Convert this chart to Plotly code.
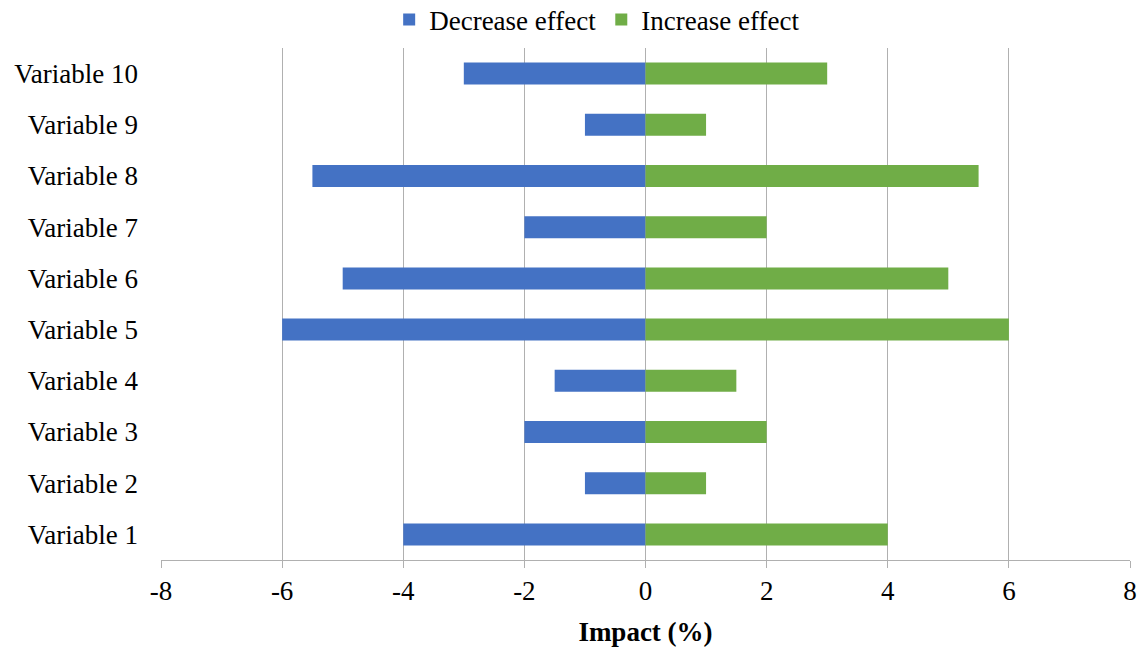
import plotly.graph_objects as go

# Tornado chart: impact of each variable when decreased / increased
variables = ["Variable 1", "Variable 2", "Variable 3", "Variable 4", "Variable 5",
             "Variable 6", "Variable 7", "Variable 8", "Variable 9", "Variable 10"]
decrease_effect = [-4, -1, -2, -1.5, -6, -5, -2, -5.5, -1, -3]
increase_effect = [4, 1, 2, 1.5, 6, 5, 2, 5.5, 1, 3]
x_ticks = [-8, -6, -4, -2, 0, 2, 4, 6, 8]

FONT = "Liberation Serif"
GRID = "#b0b0b0"
SIZE = 27

fig = go.Figure()
fig.add_trace(go.Bar(y=variables, x=decrease_effect, orientation="h",
                     name="Decrease effect", marker=dict(color="#4472C4", line_width=0),
                     width=0.43))
fig.add_trace(go.Bar(y=variables, x=increase_effect, orientation="h",
                     name="Increase effect", marker=dict(color="#70AD47", line_width=0),
                     width=0.43))

# central vertical axis with category boundary ticks
boundaries = [i - 0.5 for i in range(len(variables) + 1)]

fig.update_layout(
    width=1144, height=648,
    barmode="overlay",
    paper_bgcolor="white", plot_bgcolor="white",
    font=dict(family=FONT, size=SIZE, color="black"),
    margin=dict(l=161, r=14, t=48, b=88, autoexpand=False),
    legend=dict(orientation="h", xref="container", x=0.522, xanchor="center",
                yref="container", y=1 - 20 / 648, yanchor="middle",
                font=dict(family=FONT, size=SIZE), traceorder="normal",
                itemwidth=30, bgcolor="rgba(0,0,0,0)"),
    xaxis=dict(range=[-8, 8], tickvals=x_ticks, ticktext=[str(v) for v in x_ticks],
               showgrid=True, gridcolor=GRID, gridwidth=1, zeroline=False,
               showline=True, linecolor=GRID, linewidth=1,
               ticks="outside", ticklen=7, tickcolor=GRID,
               tickfont=dict(family=FONT, size=SIZE),
               title=dict(text="<b>Impact (%)</b>", font=dict(family=FONT, size=SIZE),
                          standoff=16)),
    yaxis=dict(type="category", categoryorder="array", categoryarray=variables,
               range=[-0.5, len(variables) - 0.5],
               showgrid=False, zeroline=False, showline=False, ticks="",
               tickfont=dict(family=FONT, size=SIZE), ticklabelstandoff=22),
    yaxis2=dict(overlaying="y", anchor="free", position=0.5, side="left",
                range=[-0.5, len(variables) - 0.5],
                tickvals=boundaries, showticklabels=False,
                ticks="outside", ticklen=6, tickcolor=GRID, tickwidth=1,
                showline=True, linecolor=GRID, linewidth=1,
                showgrid=False, zeroline=False),
)

fig.write_html("out.html")
